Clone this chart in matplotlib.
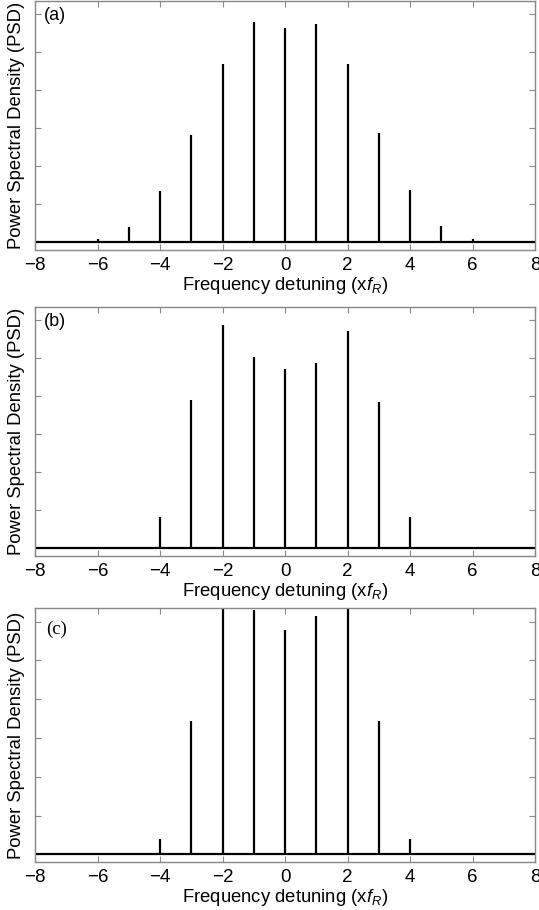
import numpy as np
import matplotlib
matplotlib.use("Agg")
import matplotlib.pyplot as plt

plt.rcParams['font.family'] = ['Liberation Sans', 'DejaVu Sans']
plt.rcParams['mathtext.fontset'] = 'custom'
plt.rcParams['mathtext.rm'] = 'Liberation Sans'
plt.rcParams['mathtext.it'] = 'Liberation Sans:italic'

# harmonic orders (x f_R)
freq_a = [-6, -5, -4, -3, -2, -1, 0, 1, 2, 3, 4, 5, 6]
psd_a = [0.08, 0.40, 1.34, 2.82, 4.70, 5.80, 5.63, 5.74, 4.68, 2.87, 1.39, 0.42, 0.08]

freq_b = [-5, -4, -3, -2, -1, 0, 1, 2, 3, 4, 5]
psd_b = [0.05, 0.82, 3.90, 5.89, 5.03, 4.71, 4.89, 5.71, 3.84, 0.82, 0.05]

freq_c = [-5, -4, -3, -2, -1, 0, 1, 2, 3, 4, 5]
psd_c = [0.03, 0.39, 3.43, 6.60, 6.31, 5.79, 6.16, 6.60, 3.43, 0.39, 0.03]

panels = [("(a)", freq_a, psd_a, "sans"), ("(b)", freq_b, psd_b, "sans"), ("(c)", freq_c, psd_c, "serif")]
boxes = [[0.065, 0.7253, 0.928, 0.2736],
         [0.065, 0.389, 0.928, 0.2736],
         [0.065, 0.0527, 0.928, 0.279]]

fig = plt.figure(figsize=(5.39, 9.10), dpi=100)

for (lab, fr, p, fam), box in zip(panels, boxes):
    ax = fig.add_axes(box)
    ax.vlines(fr, 0, p, color='black', lw=1.6)
    ax.axhline(0, color='black', lw=1.6)
    ax.set_xlim(-8, 8)
    ax.set_ylim(-0.2, 6.35)
    ax.set_xticks(np.arange(-8, 9, 2))
    ax.set_yticks(np.arange(0, 7, 1))
    ax.set_yticklabels([])
    ax.tick_params(direction='in', top=True, right=True, color='#888888',
                   length=4, labelsize=13.5, pad=5)
    for s in ax.spines.values():
        s.set_color('#888888')
        s.set_linewidth(1.0)
    ax.set_xlabel("Frequency detuning (x$f_R$)", fontsize=13.3, labelpad=1)
    ax.set_ylabel("Power Spectral Density (PSD)", fontsize=13.3, labelpad=2)
    if fam == "serif":
        ax.text(0.022, 0.95, lab, transform=ax.transAxes, fontsize=13.5,
                family=['Liberation Serif', 'DejaVu Serif'], va='top')
    else:
        ax.text(0.018, 0.975, lab, transform=ax.transAxes, fontsize=13, va='top')

fig.savefig("out.png", dpi=100)
